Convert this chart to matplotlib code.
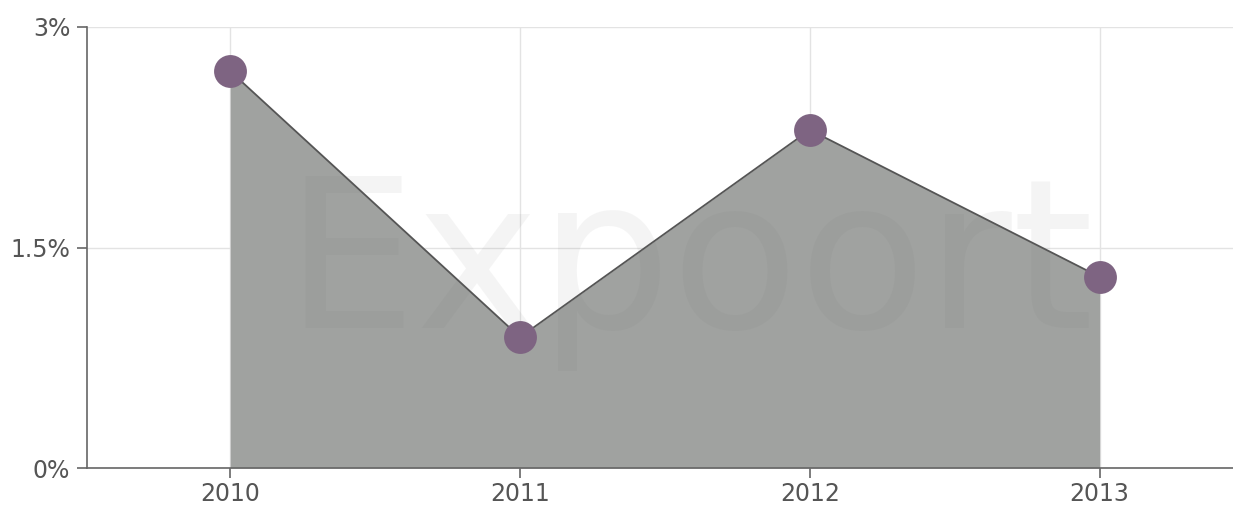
import matplotlib
matplotlib.use("Agg")
import matplotlib.pyplot as plt

years = [2010, 2011, 2012, 2013]
values = [2.70, 0.89, 2.30, 1.30]
y_ticks = [0, 1.5, 3]
y_tick_labels = ["0%", "1.5%", "3%"]

fig = plt.figure(figsize=(12.33, 5.05), dpi=100)
ax = fig.add_axes([87/1233, 37/505, 1 - 87/1233, 441/505])

ax.fill_between(years, values, 0, color="#a0a2a0", zorder=2, linewidth=0)
ax.plot(years, values, color="#555555", linewidth=1.3, zorder=3)
ax.scatter(years, values, s=560, color="#7e6482", zorder=4, linewidths=0)

ax.text(0.526, 0.45, "Expoort", transform=ax.transAxes, fontsize=150,
        color="#707070", alpha=0.07, ha="center", va="center", zorder=5,
        family="DejaVu Sans", fontweight="normal")

ax.set_xlim(2009.506, 2013.46)
ax.set_ylim(0, 3)
ax.set_xticks(years)
ax.set_xticklabels([str(y) for y in years])
ax.set_yticks(y_ticks)
ax.set_yticklabels(y_tick_labels)

ax.grid(True, color="#e3e3e3", linewidth=1, zorder=0)
ax.set_axisbelow(True)
for s in ["top", "right"]:
    ax.spines[s].set_visible(False)
for s in ["left", "bottom"]:
    ax.spines[s].set_color("#666666")
    ax.spines[s].set_linewidth(1.2)
    ax.spines[s].set_zorder(6)
ax.tick_params(axis="both", colors="#666666", labelcolor="#555555",
               labelsize=17, length=7, width=1.2, direction="out")
ax.tick_params(axis="y", pad=5)
ax.tick_params(axis="x", pad=3)

fig.savefig("out.png", dpi=100)
